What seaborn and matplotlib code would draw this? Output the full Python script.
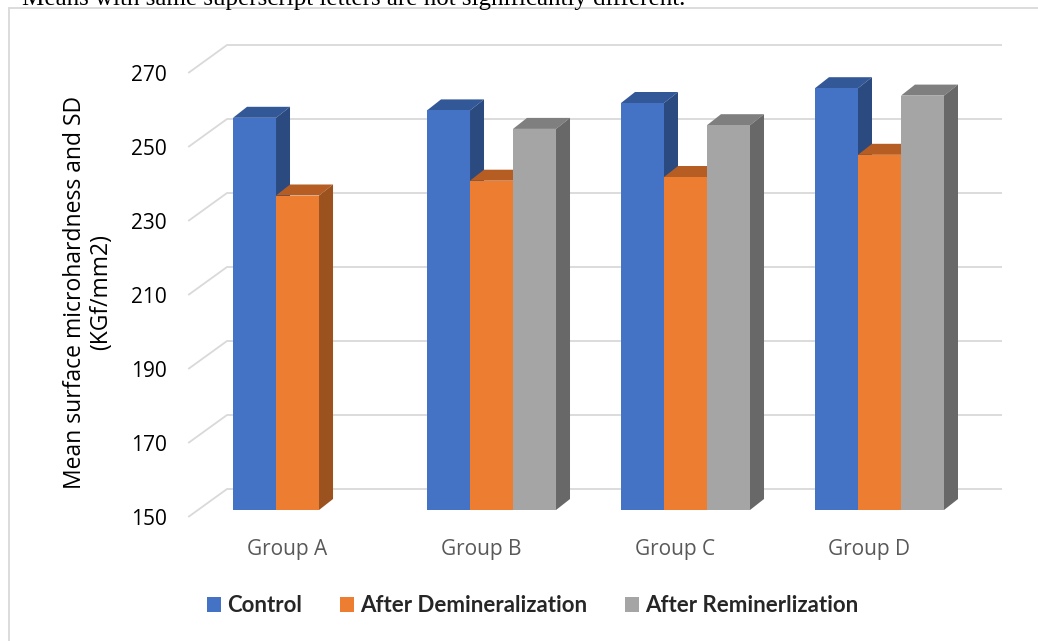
import numpy as np
import pandas as pd
import matplotlib
matplotlib.use("Agg")
import matplotlib.pyplot as plt
import matplotlib.transforms as mtransforms
from matplotlib.patches import Polygon, Patch
from matplotlib.lines import Line2D
from matplotlib.font_manager import FontProperties
import seaborn as sns

# ---- data -------------------------------------------------------------
groups = ["Group A", "Group B", "Group C", "Group D"]
series = ["Control", "After Demineralization", "After Reminerlization"]
control = [256, 258, 260, 264]
after_demin = [235, 239, 240, 246]
after_remin = [None, 253, 254, 262]
y_ticks = [150, 170, 190, 210, 230, 250, 270]
note = "Means with same superscript letters are not significantly different."
y_title = "Mean surface microhardness and SD\n(KGf/mm2)"

# front / top / side shades of each series
front_colors = ["#4472C4", "#ED7D31", "#A5A5A5"]
top_colors = ["#335898", "#B55D22", "#7F7F7F"]
side_colors = ["#2B4A80", "#9B521E", "#686868"]
grid_color = "#D9D9D9"

rows = []
for name, vals in zip(series, [control, after_demin, after_remin]):
    for g, v in zip(groups, vals):
        if v is not None:
            rows.append({"group": g, "series": name, "value": v})
df = pd.DataFrame(rows)

# ---- figure -----------------------------------------------------------
W, H, DPI = 1038, 641, 100
sns.set_theme(style="white")
plt.rcParams["font.family"] = ["Open Sans", "DejaVu Sans"]

fig = plt.figure(figsize=(W / DPI, H / DPI), dpi=DPI, facecolor="white")
# plane of the bar front faces (pixels from the top-left corner)
left_px, right_px, top_px, bottom_px = 198, 973, 66, 510
ax = fig.add_axes([left_px / W, 1 - bottom_px / H,
                   (right_px - left_px) / W, (bottom_px - top_px) / H])
ax.patch.set_alpha(0)

sns.barplot(data=df, x="group", y="value", hue="series",
            order=groups, hue_order=series, palette=front_colors,
            saturation=1, width=0.665, errorbar=None, legend=False,
            linewidth=0, ax=ax)

ax.set_ylim(y_ticks[0], y_ticks[-1])
ax.set_xlim(-0.513, 3.482)
sns.despine(ax=ax, left=True, bottom=True)
ax.set_xlabel("")
ax.set_ylabel("")

# pixel -> data scale factors
p0 = ax.transData.transform((0, y_ticks[0]))
p1 = ax.transData.transform((1, y_ticks[-1]))
sx = p1[0] - p0[0]
sy = (p1[1] - p0[1]) / (y_ticks[-1] - y_ticks[0])
x_lo, _ = ax.get_xlim()

# floor-to-back-wall gridlines
for v in y_ticks:
    xs = [x_lo - 9.75 / sx, x_lo + 29 / sx, x_lo + (1002 - left_px) / sx]
    ys = [v - 7 / sy, v + 21 / sy, v + 21 / sy]
    ax.plot(xs, ys, color=grid_color, lw=1.3, zorder=0, clip_on=False,
            solid_capstyle="butt")

# depth faces of each column
dx, dy = 14 / sx, 11 / sy
base = y_ticks[0]
for h, cont in enumerate(ax.containers):
    for bar in cont:
        top = bar.get_y() + bar.get_height()
        if not np.isfinite(top):
            continue
        x0, w = bar.get_x(), bar.get_width()
        bar.set_zorder(3 + 2 * h)
        ax.add_patch(Polygon([(x0, top), (x0 + w, top), (x0 + w + dx, top + dy),
                              (x0 + dx, top + dy)], closed=True,
                             facecolor=top_colors[h], edgecolor="none",
                             zorder=2 + 2 * h, clip_on=False))
        ax.add_patch(Polygon([(x0 + w, base), (x0 + w, top), (x0 + w + dx, top + dy),
                              (x0 + w + dx, base + dy)], closed=True,
                             facecolor=side_colors[h], edgecolor="none",
                             zorder=2 + 2 * h, clip_on=False))

# tick labels
ax.set_yticks(y_ticks)
ax.set_yticklabels([str(t) for t in y_ticks])
ax.tick_params(axis="y", length=0, pad=31 * 72 / DPI, labelsize=15,
               labelcolor="black")
ax.set_xticks(range(len(groups)))
ax.set_xticklabels(groups)
ax.tick_params(axis="x", length=0, pad=21, labelsize=15, labelcolor="#595959")

shift_y = mtransforms.ScaledTranslation(0, -7 / DPI, fig.dpi_scale_trans)
for lbl in ax.get_yticklabels():
    lbl.set_transform(lbl.get_transform() + shift_y)
shift_x = mtransforms.ScaledTranslation(-10 / DPI, 0, fig.dpi_scale_trans)
for lbl in ax.get_xticklabels():
    lbl.set_transform(lbl.get_transform() + shift_x)

# axis title
fig.text(88 / W, 1 - 292 / H, y_title, rotation=90, ha="center", va="center",
         fontsize=16.5, color="black", linespacing=1.1)

# legend
handles = [Patch(facecolor=c, edgecolor="none") for c in front_colors]
fig.legend(handles, series, loc="center", bbox_to_anchor=(533 / W, 1 - 606 / H),
           ncol=3, frameon=False,
           prop=FontProperties(family="Lato", weight="bold", size=16),
           handlelength=0.63, handleheight=0.63, handletextpad=0.28,
           columnspacing=1.7, borderaxespad=0)

# chart-area border and the note above it
fig.add_artist(Line2D([9 / W, 9 / W], [0, 1 - 8 / H], transform=fig.transFigure,
                      color=grid_color, lw=1.3))
fig.add_artist(Line2D([9 / W, 1], [1 - 8 / H, 1 - 8 / H], transform=fig.transFigure,
                      color=grid_color, lw=1.3))
fig.text(22 / W, 1 - 5 / H, note, ha="left", va="baseline",
         family=["Liberation Serif", "DejaVu Serif"], fontsize=18, color="black")

fig.savefig("out.png", dpi=DPI, facecolor="white")
